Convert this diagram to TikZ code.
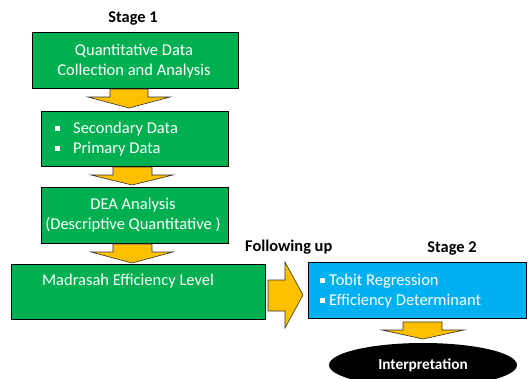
\documentclass[tikz,border=0pt]{standalone}
\usepackage{fontspec}
\setmainfont{Carlito}
\usetikzlibrary{shapes.geometric}
\definecolor{grn}{HTML}{00B050}
\definecolor{ylw}{HTML}{FFC000}
\definecolor{blu}{HTML}{00B0F0}
\tikzset{
  gbox/.style={draw=black, line width=0.9pt, fill=grn},
  bbox/.style={draw=black, line width=0.9pt, fill=blu},
  blockarrow/.style={draw=black!80, line width=0.6pt, fill=ylw},
  wtxt/.style={text=white, font=\fontsize{16.5}{20}\selectfont, inner sep=0pt},
  btxt/.style={text=black, font=\bfseries\fontsize{16.4}{20}\selectfont, inner sep=0pt},
  bul/.style={fill=white, draw=none},
}
\begin{document}
\begin{tikzpicture}[x=1pt,y=-1pt]
\useasboundingbox (0,0) rectangle (528,378);
% Stage 1 label
\node[btxt] (s1) at (133,19) {Stage 1};
% Box 1
\draw[gbox] (32,32) rectangle (238,88);
\node[wtxt, align=center] (b1) at (134,61) {Quantitative Data\\Collection and Analysis};
% Arrow 1
\draw[blockarrow] (110,89) -- (148,89) -- (148,97) -- (170,97) -- (129,108) -- (88,97) -- (110,97) -- cycle;
% Box 2
\draw[gbox] (41,111) rectangle (228,166);
\fill[bul] (55,126) rectangle (60,131);
\fill[bul] (55,146) rectangle (60,151);
\node[wtxt, anchor=west] (b2a) at (73,129) {Secondary Data};
\node[wtxt, anchor=west] (b2b) at (73,149) {Primary Data};
% Arrow 2
\draw[blockarrow] (113,167) -- (152,167) -- (152,175) -- (173,175) -- (132,185) -- (91,175) -- (113,175) -- cycle;
% Box 3
\draw[gbox] (41,187) rectangle (228,243);
\node[wtxt, align=center] (b3) at (133,215) {DEA Analysis\\(Descriptive Quantitative )};
% Arrow 3
\draw[blockarrow] (113,244) -- (152,244) -- (152,252) -- (173,252) -- (132,263) -- (91,252) -- (113,252) -- cycle;
% Box 4
\draw[gbox] (11,264) rectangle (265,319);
\node[wtxt] (b4) at (128,281) {Madrasah Efficiency Level};
% Following up
\node[btxt, anchor=west] (fu) at (245,247) {Following up};
% Right arrow
\draw[blockarrow] (268,280) -- (285,280) -- (285,262) -- (303,295) -- (285,328) -- (285,311) -- (268,311) -- cycle;
% Stage 2
\node[btxt] (s2) at (452,249) {Stage 2};
% Blue box
\draw[bbox] (308,262) rectangle (526,318);
\fill[bul] (320,278) rectangle (325,283);
\fill[bul] (320,298) rectangle (325,303);
\node[wtxt, anchor=west] (t1) at (329,281) {Tobit Regression};
\node[wtxt, anchor=west] (t2) at (329,301) {Efficiency Determinant};
% Arrow 4
\draw[blockarrow] (403,322) -- (442,322) -- (442,330) -- (464,330) -- (423,339) -- (382,330) -- (403,330) -- cycle;
% Ellipse
\fill[black] (423,365) ellipse (94 and 22);
\node[text=white, font=\bfseries\fontsize{15.3}{18}\selectfont, inner sep=0pt] (ip) at (423,365) {Interpretation};
\end{tikzpicture}
\end{document}
